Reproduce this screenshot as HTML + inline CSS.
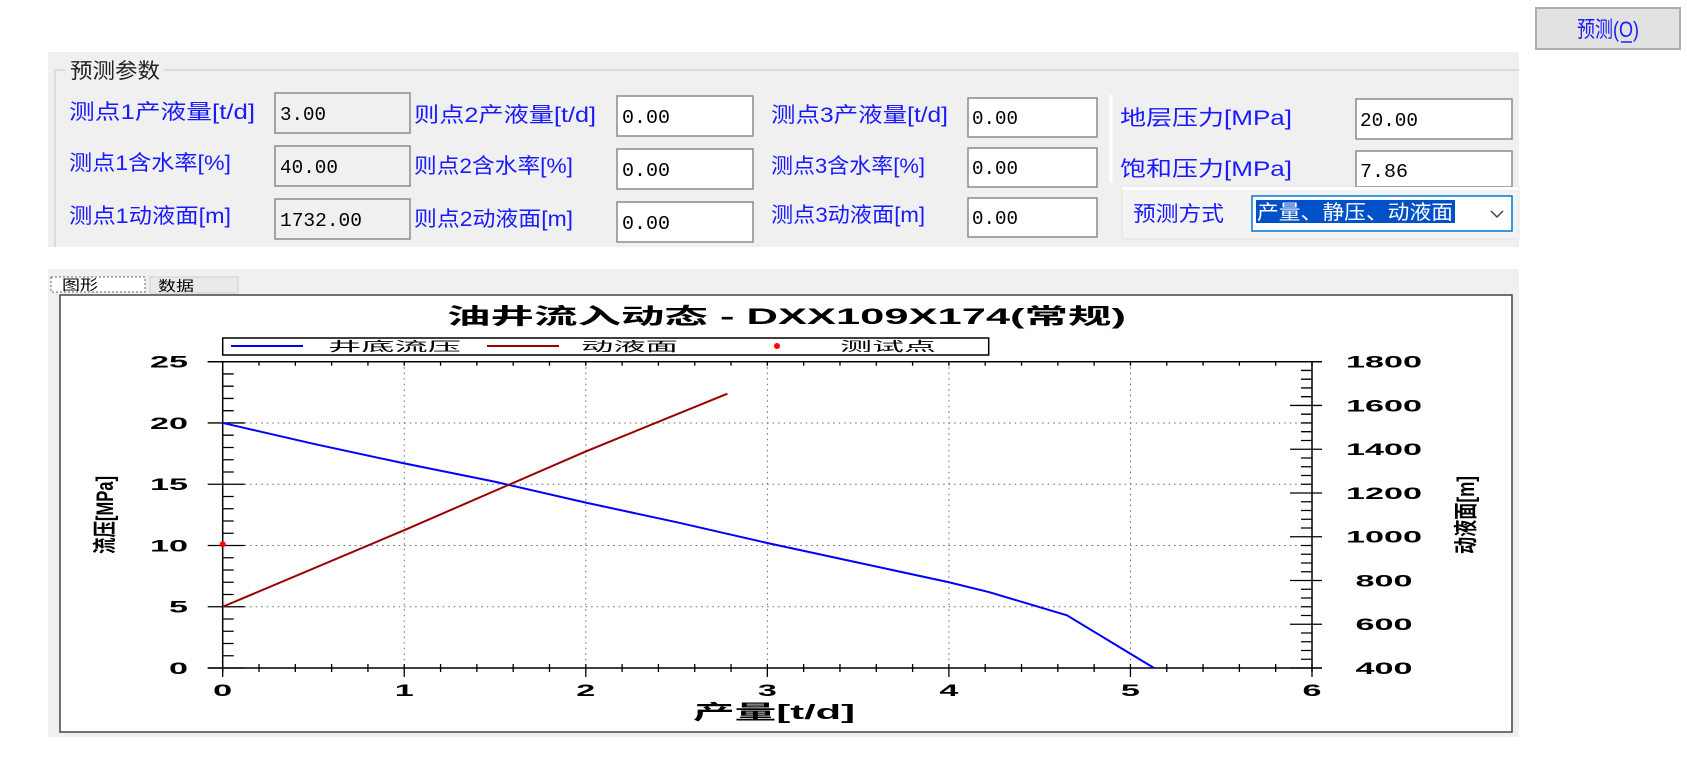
<!DOCTYPE html>
<html><head><meta charset="utf-8"><style>
html,body{margin:0;padding:0;background:#fff;}
svg{display:block;font-family:"Liberation Sans","Noto Sans CJK SC",sans-serif;}
.lbl{fill:#1a1aff;font-size:21px;}
.val{fill:#000;font-size:19px;font-family:"Liberation Mono","Noto Sans CJK SC",monospace;}
.tk{font-size:17px;font-weight:bold;fill:#000;}
</style></head><body>
<svg id="root" width="1687" height="760" viewBox="0 0 1687 760" xmlns="http://www.w3.org/2000/svg">
<g>
<rect x="1536" y="8" width="144" height="41" fill="#e1e1e1" stroke="#adadad" stroke-width="2"/>
<text x="1608" y="37" text-anchor="middle" style="fill:#1a1aff;font-size:22px" textLength="62" lengthAdjust="spacingAndGlyphs">预测(O)</text>
<line x1="1621" y1="42" x2="1632" y2="42" stroke="#1a1aff" stroke-width="1.5"/>
</g>
<g>
<rect x="48" y="52" width="1471" height="195" fill="#f0f0f0"/>
<polyline points="55,247 55,70 1519,70" fill="none" stroke="#dcdcdc" stroke-width="2"/>
<rect x="66" y="55" width="98" height="28" fill="#f0f0f0"/>
<text x="70" y="78" style="font-size:21px;fill:#222" textLength="90" lengthAdjust="spacingAndGlyphs">预测参数</text>
<line x1="1111" y1="95" x2="1111" y2="183" stroke="#fff" stroke-width="3"/>
<rect x="1122" y="187" width="397" height="52" fill="#f3f3f3" stroke="#e4e4e4"/>
</g>
<g>
<text class="lbl" x="69" y="119" textLength="186" lengthAdjust="spacingAndGlyphs">测点1产液量[t/d]</text>
<text class="lbl" x="69" y="170" textLength="162" lengthAdjust="spacingAndGlyphs">测点1含水率[%]</text>
<text class="lbl" x="69" y="223" textLength="162" lengthAdjust="spacingAndGlyphs">测点1动液面[m]</text>
</g>
<g>
<rect x="275" y="93" width="135" height="40" fill="#f0f0f0" stroke="#8a8a8a" stroke-width="1.5"/>
<text class="val" x="280" y="120" textLength="46" lengthAdjust="spacingAndGlyphs">3.00</text>
<rect x="275" y="146" width="135" height="40" fill="#f0f0f0" stroke="#8a8a8a" stroke-width="1.5"/>
<text class="val" x="280" y="173" textLength="58" lengthAdjust="spacingAndGlyphs">40.00</text>
<rect x="275" y="199" width="135" height="40" fill="#f0f0f0" stroke="#8a8a8a" stroke-width="1.5"/>
<text class="val" x="280" y="226" textLength="82" lengthAdjust="spacingAndGlyphs">1732.00</text>
</g>
<g>
<text class="lbl" x="414" y="122" textLength="182" lengthAdjust="spacingAndGlyphs">则点2产液量[t/d]</text>
<text class="lbl" x="414" y="173" textLength="159" lengthAdjust="spacingAndGlyphs">则点2含水率[%]</text>
<text class="lbl" x="414" y="226" textLength="159" lengthAdjust="spacingAndGlyphs">则点2动液面[m]</text>
</g>
<g>
<rect x="617" y="96" width="136" height="40" fill="#fff" stroke="#8a8a8a" stroke-width="1.5"/>
<text class="val" x="622" y="123" textLength="48" lengthAdjust="spacingAndGlyphs">0.00</text>
<rect x="617" y="149" width="136" height="40" fill="#fff" stroke="#8a8a8a" stroke-width="1.5"/>
<text class="val" x="622" y="176" textLength="48" lengthAdjust="spacingAndGlyphs">0.00</text>
<rect x="617" y="202" width="136" height="40" fill="#fff" stroke="#8a8a8a" stroke-width="1.5"/>
<text class="val" x="622" y="229" textLength="48" lengthAdjust="spacingAndGlyphs">0.00</text>
</g>
<g>
<text class="lbl" x="771" y="122" textLength="177" lengthAdjust="spacingAndGlyphs">测点3产液量[t/d]</text>
<text class="lbl" x="771" y="173" textLength="154" lengthAdjust="spacingAndGlyphs">测点3含水率[%]</text>
<text class="lbl" x="771" y="222" textLength="154" lengthAdjust="spacingAndGlyphs">测点3动液面[m]</text>
</g>
<g>
<rect x="968" y="98" width="129" height="39" fill="#fff" stroke="#8a8a8a" stroke-width="1.5"/>
<text class="val" x="972" y="124" textLength="46" lengthAdjust="spacingAndGlyphs">0.00</text>
<rect x="968" y="148" width="129" height="39" fill="#fff" stroke="#8a8a8a" stroke-width="1.5"/>
<text class="val" x="972" y="174" textLength="46" lengthAdjust="spacingAndGlyphs">0.00</text>
<rect x="968" y="198" width="129" height="39" fill="#fff" stroke="#8a8a8a" stroke-width="1.5"/>
<text class="val" x="972" y="224" textLength="46" lengthAdjust="spacingAndGlyphs">0.00</text>
</g>
<g>
<text class="lbl" x="1120" y="125" textLength="172" lengthAdjust="spacingAndGlyphs">地层压力[MPa]</text>
<text class="lbl" x="1120" y="176" textLength="172" lengthAdjust="spacingAndGlyphs">饱和压力[MPa]</text>
<rect x="1356" y="99" width="156" height="40" fill="#fff" stroke="#8a8a8a" stroke-width="1.5"/>
<text class="val" x="1360" y="126" textLength="58" lengthAdjust="spacingAndGlyphs">20.00</text>
<rect x="1356" y="151" width="156" height="36" fill="#fff" stroke="#8a8a8a" stroke-width="1.5"/>
<text class="val" x="1360" y="177" textLength="48" lengthAdjust="spacingAndGlyphs">7.86</text>
<rect x="1122" y="187" width="397" height="3" fill="#fff"/>
<text class="lbl" x="1133" y="221" textLength="91" lengthAdjust="spacingAndGlyphs">预测方式</text>
</g>
<g>
<rect x="1252" y="196" width="260" height="35" fill="#fff" stroke="#0078d7" stroke-width="1.5"/>
<rect x="1256" y="200" width="199" height="23" fill="#0050c8"/>
<text x="1257" y="219" style="fill:#fff;font-size:20px" textLength="196" lengthAdjust="spacingAndGlyphs">产量、静压、动液面</text>
<polyline points="1491,211 1497,217 1503,211" fill="none" stroke="#444" stroke-width="1.5"/>
</g>
<g>
<rect x="48" y="269" width="1471" height="468" fill="#f0f0f0"/>
<rect x="51" y="277" width="94" height="15" fill="#fff" stroke="#666" stroke-dasharray="2,2"/>
<text x="62" y="290" style="font-size:14px" textLength="36" lengthAdjust="spacingAndGlyphs">图形</text>
<rect x="150" y="277" width="88" height="16" fill="#eaeaea" stroke="#d0d0d0"/>
<text x="158" y="291" style="font-size:14px" textLength="36" lengthAdjust="spacingAndGlyphs">数据</text>
</g>
<rect x="60" y="295" width="1452" height="437" fill="#fff" stroke="#444" stroke-width="1.5"/>
<g id="chart"></g>
</svg>
<script>
const xTicks=[0,1,2,3,4,5,6];
const yLeftTicks=[0,5,10,15,20,25];
const yRightTicks=[400,600,800,1000,1200,1400,1600,1800];
const pwfX=[0,0.5,1,1.5,2,2.5,3,3.5,4,4.22,4.65,5.13];
const pwfY=[20,18.3,16.7,15.2,13.5,11.9,10.2,8.6,7.0,6.2,4.3,0];
const levelX=[0,1,2,2.78];
const levelY=[680,1030,1390,1654];
const testX=[0];
const testY=[10.1];

const NS='http://www.w3.org/2000/svg';
const g=document.getElementById('chart');
const X0=222.7,X1=1312,Y0=668,Y1=361.7;
const xs=v=>X0+(v-0)/(6-0)*(X1-X0);
const yl=v=>Y0-(v-0)/(25-0)*(Y0-Y1);
const yr=v=>Y0-(v-400)/(1800-400)*(Y0-Y1);
function mk(t,a,txt){const e=document.createElementNS(NS,t);for(const k in a)e.setAttribute(k,a[k]);if(txt!=null)e.textContent=txt;g.appendChild(e);return e;}

for(const v of xTicks){if(v>0&&v<6){const e=mk('line',{x1:xs(v),x2:xs(v),y1:Y1,y2:Y0,stroke:'#666','stroke-dasharray':'1.5,4'});

}}
for(const v of yLeftTicks){if(v>0&&v<25){const e=mk('line',{x1:X0,x2:X1,y1:yl(v),y2:yl(v),stroke:'#666','stroke-dasharray':'1.5,4'});

}}
const ax=mk('path',{d:`M${X0-15},${Y0}H${X1+10}M${X0},${Y1}V${Y0+4}M${X1},${Y1}V${Y0+4}M${X0-15},${Y1}H${X1+10}`,stroke:'#000','stroke-width':1.5,fill:'none'});


let d='';
for(let i=0;i<=30;i++){const x=xs(i*0.2);const maj=i%5===0;d+=`M${x},${Y0-4}V${Y0+(maj?9:4)}M${x},${Y1}V${Y1+4}`;}
for(let i=0;i<=25;i++){const y=yl(i);const maj=i%5===0;d+=`M${X0-(maj?15:0)},${y}H${X0+(maj?22:11)}`;}
for(let i=0;i<=35;i++){const y=yr(400+i*40);const maj=i%5===0;d+=`M${X1-(maj?22:11)},${y}H${X1+(maj?10:0)}`;}
const tk=mk('path',{d,stroke:'#000','stroke-width':1.3,fill:'none'});


for(const v of xTicks){const t=mk('text',{x:xs(v),y:Y0+28,'text-anchor':'middle',class:'tk',textLength:19,lengthAdjust:'spacingAndGlyphs'},String(v));

}
for(const v of yLeftTicks){const s=String(v);const t=mk('text',{x:188,y:yl(v)+6,'text-anchor':'end',class:'tk',textLength:s.length*19,lengthAdjust:'spacingAndGlyphs'},s);

}
for(const v of yRightTicks){const s=String(v);const t=mk('text',{x:1384,y:yr(v)+6,'text-anchor':'middle',class:'tk',textLength:s.length*19,lengthAdjust:'spacingAndGlyphs'},s);

}
const p1=mk('polyline',{points:pwfX.map((x,i)=>xs(x)+','+yl(pwfY[i])).join(' '),fill:'none',stroke:'#0000ff','stroke-width':2});


const p2=mk('polyline',{points:levelX.map((x,i)=>xs(x)+','+yr(levelY[i])).join(' '),fill:'none',stroke:'#990000','stroke-width':2});


testX.forEach((x,i)=>{const c=mk('circle',{cx:xs(x),cy:yl(testY[i]),r:3,fill:'#ff0000'});

});
const ti=mk('text',{x:447,y:324,style:'font-size:22px;font-weight:bold',textLength:679,lengthAdjust:'spacingAndGlyphs'},'油井流入动态 - DXX109X174(常规)');


const xt=mk('text',{x:693,y:719,style:'font-size:20px;font-weight:bold',textLength:162,lengthAdjust:'spacingAndGlyphs'},'产量[t/d]');


const ylT=mk('text',{x:0,y:0,transform:'translate(113,515) rotate(-90)','text-anchor':'middle',style:'font-size:24px;font-weight:bold',textLength:78,lengthAdjust:'spacingAndGlyphs'},'流压[MPa]');


const yrT=mk('text',{x:0,y:0,transform:'translate(1474,515) rotate(-90)','text-anchor':'middle',style:'font-size:24px;font-weight:bold',textLength:78,lengthAdjust:'spacingAndGlyphs'},'动液面[m]');


const lg=mk('rect',{x:222.7,y:338,width:766,height:17,fill:'#fff',stroke:'#000','stroke-width':1.5});


const l1=mk('line',{x1:231,x2:303,y1:346,y2:346,stroke:'#0000ff','stroke-width':2});


mk('text',{x:328,y:351,style:'font-size:13px',textLength:133,lengthAdjust:'spacingAndGlyphs'},'井底流压');
const l2=mk('line',{x1:487,x2:559,y1:346,y2:346,stroke:'#990000','stroke-width':2});


mk('text',{x:581,y:351,style:'font-size:13px',textLength:97,lengthAdjust:'spacingAndGlyphs'},'动液面');
const l3=mk('circle',{cx:777,cy:346,r:3,fill:'#ff0000'});


mk('text',{x:840,y:351,style:'font-size:13px',textLength:96,lengthAdjust:'spacingAndGlyphs'},'测试点');
</script>
</body></html>
